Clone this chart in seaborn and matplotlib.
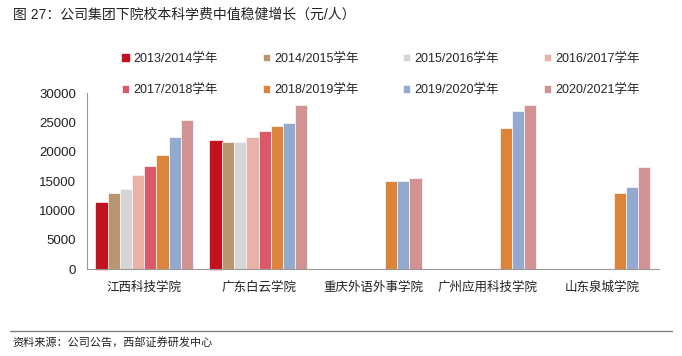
import numpy as np
import pandas as pd
import matplotlib
matplotlib.use("Agg")
import matplotlib.pyplot as plt
from matplotlib.lines import Line2D
import seaborn as sns

schools = ['江西科技学院', '广东白云学院', '重庆外语外事学院', '广州应用科技学院', '山东泉城学院']
years = ['2013/2014学年', '2014/2015学年', '2015/2016学年', '2016/2017学年',
         '2017/2018学年', '2018/2019学年', '2019/2020学年', '2020/2021学年']
nan = np.nan
v2013 = [11200, 21800, nan, nan, nan]
v2014 = [13000, 21600, nan, nan, nan]
v2015 = [13600, 21600, nan, nan, nan]
v2016 = [16000, 22500, nan, nan, nan]
v2017 = [17600, 23600, nan, nan, nan]
v2018 = [19500, 24500, 15000, 24000, 13000]
v2019 = [22500, 25000, 15000, 27000, 14000]
v2020 = [25500, 28000, 15500, 28000, 17500]
series = [v2013, v2014, v2015, v2016, v2017, v2018, v2019, v2020]
colors = ['#C2111F', '#B9966F', '#D5D5D5', '#E8B2A6',
          '#DC5869', '#DC843A', '#93A9CE', '#D29193']

rows = []
for y, vals in zip(years, series):
    for s, v in zip(schools, vals):
        if not np.isnan(v):
            rows.append({'school': s, 'year': y, 'value': v})
df = pd.DataFrame(rows)

sns.set_theme(style='white')
plt.rcParams['font.family'] = ['Liberation Sans', 'Noto Sans CJK SC']

fig = plt.figure(figsize=(6.82, 3.56), dpi=100)
ax = fig.add_axes([87/682, 1-269/356, (659-87)/682, (269-93.3)/356])

sns.barplot(data=df, x='school', y='value', hue='year', order=schools,
            hue_order=years, palette=colors, width=0.85, ax=ax,
            edgecolor='#f4f4f4', linewidth=0.6, saturation=1, legend=True)

# highlight outline on first series
for p in ax.patches:
    fc = matplotlib.colors.to_hex(p.get_facecolor())
    if fc.lower() == colors[0].lower():
        p.set_edgecolor('#C2111F')
        p.set_linewidth(1.0)
        p.set_clip_on(False)

handles, labels = ax.get_legend_handles_labels()
ax.get_legend().remove()
order = [0, 4, 1, 5, 2, 6, 3, 7]
handles = [handles[i] for i in order]
labels = [labels[i] for i in order]

ax.set_xlim(-0.5, 4.5)
ax.set_ylim(0, 30000)
ax.set_yticks([0, 5000, 10000, 15000, 20000, 25000, 30000])
ax.set_xlabel('')
ax.set_ylabel('')
ax.set_xticks(range(len(schools)))
ax.set_xticklabels(schools, fontsize=9, color='#222222')
ax.set_xticks([0.5, 1.5, 2.5, 3.5, 4.5], minor=True)
ax.tick_params(axis='x', which='major', length=0, pad=9)
ax.tick_params(axis='x', which='minor', direction='in', length=4, color='#999999', width=0.8)
ax.tick_params(axis='y', length=0, pad=8, labelsize=9.5, labelcolor='#222222')
for side in ['top', 'right']:
    ax.spines[side].set_visible(False)
for side in ['left', 'bottom']:
    ax.spines[side].set_color('#999999')
    ax.spines[side].set_linewidth(0.8)

fig.legend(handles, labels, ncol=4, loc='upper left',
           bbox_to_anchor=(122/682, 1-53/356), frameon=False, fontsize=9,
           handlelength=0.55, handleheight=0.55, handletextpad=0.35,
           columnspacing=3.6, labelspacing=1.55, borderpad=0, borderaxespad=0)

fig.text(13/682, 1-15/356, '图 27：公司集团下院校本科学费中值稳健增长（元/人）',
         fontsize=10, va='center', ha='left', color='#222222')
fig.add_artist(Line2D([10/682, 672/682], [1-330.7/356, 1-330.7/356],
                      color='#808080', lw=1.0, transform=fig.transFigure))
fig.text(12/682, 1-342.7/356, '资料来源：公司公告，西部证券研发中心',
         fontsize=8, va='center', ha='left', color='#222222')

fig.savefig('out.png', dpi=100)
